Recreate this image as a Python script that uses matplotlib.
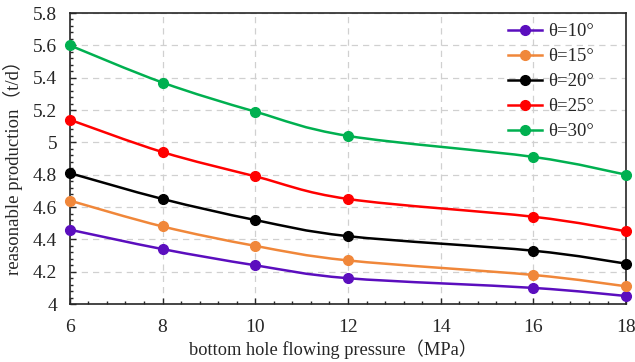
import matplotlib
matplotlib.use("Agg")
import matplotlib.pyplot as plt
from matplotlib.path import Path
from matplotlib.patches import PathPatch
from matplotlib.lines import Line2D
from matplotlib.ticker import MultipleLocator, AutoMinorLocator, FormatStrFormatter
import numpy as np

pressure = [6, 8, 10, 12, 16, 18]
labels = ["θ=10°", "θ=15°", "θ=20°", "θ=25°", "θ=30°"]
theta10 = [4.46, 4.34, 4.24, 4.16, 4.10, 4.05]
theta15 = [4.64, 4.48, 4.36, 4.27, 4.18, 4.11]
theta20 = [4.81, 4.65, 4.52, 4.42, 4.33, 4.25]
theta25 = [5.14, 4.94, 4.79, 4.65, 4.54, 4.45]
theta30 = [5.60, 5.37, 5.19, 5.04, 4.91, 4.80]
series = [theta10, theta15, theta20, theta25, theta30]
colors = ["#5B0EBE", "#F0873A", "#000000", "#FF0000", "#00B050"]

plt.rcParams['font.family'] = ['Liberation Serif', 'Noto Sans CJK SC']

fig = plt.figure(figsize=(6.35, 3.62), dpi=100)
ax = fig.add_axes([0.110, 0.160, 0.876, 0.804])


def smooth_path(x, y):
    pts = np.column_stack([x, y]).astype(float)
    n = len(pts)
    verts = [pts[0]]
    codes = [Path.MOVETO]
    for i in range(n - 1):
        p0 = pts[i - 1] if i > 0 else pts[i]
        p1 = pts[i]
        p2 = pts[i + 1]
        p3 = pts[i + 2] if i + 2 < n else pts[i + 1]
        c1 = p1 + (p2 - p0) / 6.0
        c2 = p2 - (p3 - p1) / 6.0
        verts += [c1, c2, p2]
        codes += [Path.CURVE4] * 3
    return Path(verts, codes)


handles = []
for ys, c, lab in zip(series, colors, labels):
    patch = PathPatch(smooth_path(pressure, ys), facecolor='none', edgecolor=c, lw=1.8, zorder=3)
    ax.add_patch(patch)
    ax.plot(pressure, ys, linestyle='none', marker='o', ms=7, color=c, zorder=4, clip_on=False)
    handles.append(Line2D([], [], color=c, lw=1.8, marker='o', ms=7, label=lab))

ax.set_xlim(6, 18)
ax.set_ylim(4, 5.8)
ax.xaxis.set_major_locator(MultipleLocator(2))
ax.yaxis.set_major_locator(MultipleLocator(0.2))
ax.xaxis.set_minor_locator(AutoMinorLocator(5))
ax.yaxis.set_minor_locator(AutoMinorLocator(5))
ax.yaxis.set_major_formatter(FormatStrFormatter('%g'))
ax.tick_params(which='both', direction='in', top=False, right=False, labelsize=14, colors='#262626')
ax.tick_params(which='major', length=4, width=1)
ax.tick_params(which='minor', length=2.5, width=1)
ax.tick_params(axis='x', pad=11)
ax.tick_params(axis='y', pad=9)
ax.grid(True, which='major', linestyle=(0, (5, 4)), color='#d0d0d0', lw=0.9)
ax.set_axisbelow(True)
for s in ax.spines.values():
    s.set_color('#262626')
    s.set_linewidth(1.2)

ax.set_xlabel("bottom hole flowing pressure（MPa）", fontsize=13.2, color='#262626')
ax.set_ylabel("reasonable production（t/d）", fontsize=13.5, color='#262626')
ax.xaxis.set_label_coords(0.474, -0.122)
ax.yaxis.set_label_coords(-0.085, 0.485)

leg = ax.legend(handles=handles, loc='upper right', frameon=False, fontsize=13.5,
                handlelength=1.8, handletextpad=0.35, labelspacing=0.42,
                borderaxespad=0, borderpad=0.55,
                bbox_to_anchor=(0.961, 1.0))
for t in leg.get_texts():
    t.set_color('#262626')

fig.savefig("out.png", dpi=100)
